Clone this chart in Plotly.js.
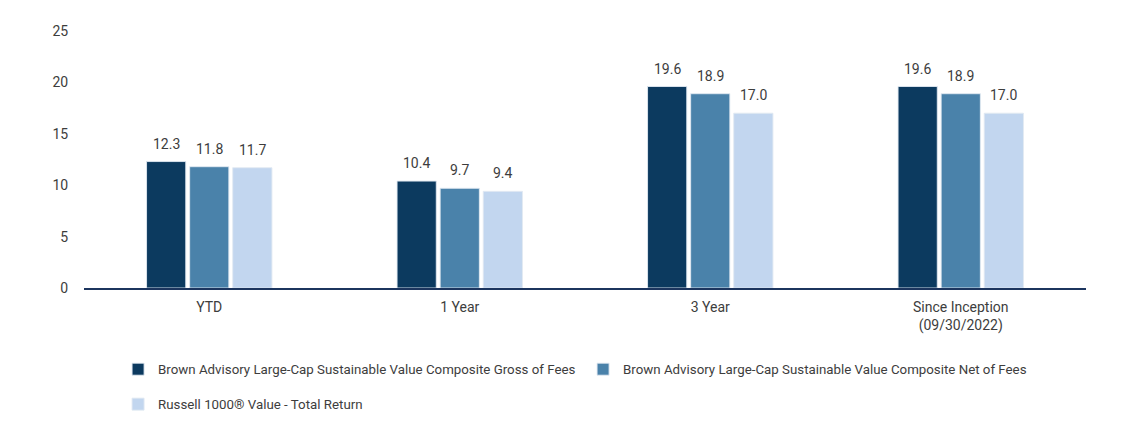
<!DOCTYPE html>
<html>
<head>
<meta charset="utf-8">
<script src="https://cdn.plot.ly/plotly-3.0.1.min.js"></script>
<style>html,body{margin:0;padding:0;background:#fff;}#chart{width:1133px;height:437px;}</style>
</head>
<body>
<div id="chart"></div>
<script>
const categories = ["YTD", "1 Year", "3 Year", "Since Inception<br>(09/30/2022)"];
const seriesNames = [
  "Brown Advisory Large-Cap Sustainable Value Composite Gross of Fees",
  "Brown Advisory Large-Cap Sustainable Value Composite Net of Fees",
  "Russell 1000® Value - Total Return"
];
const grossValues = [12.3, 10.4, 19.6, 19.6];
const netValues = [11.8, 9.7, 18.9, 18.9];
const benchmarkValues = [11.7, 9.4, 17.0, 17.0];
const yTicks = [0, 5, 10, 15, 20, 25];

const colors = ["#0c3a5f", "#4a82aa", "#c2d6ef"];
const FONT = "Roboto, 'Liberation Sans', sans-serif";
const TEXT = "#3d3d3d";
const FS = 14;
const LFS = 13.3;

const allValues = [grossValues, netValues, benchmarkValues];
const legends = ["legend", "legend", "legend2"];

const traces = allValues.map((vals, i) => ({
  type: "bar",
  name: seriesNames[i],
  x: categories,
  y: vals,
  marker: {color: colors[i], line: {color: "rgba(225,233,242,0.9)", width: 1}},
  legend: legends[i],
  hoverinfo: "y+name"
}));

const groupSlotPx = 43;
const annotations = [];
allValues.forEach((vals, i) => {
  vals.forEach((v, j) => {
    annotations.push({
      x: categories[j], y: v, xref: "x", yref: "y",
      text: v.toFixed(1), showarrow: false,
      xshift: (i - 1) * groupSlotPx, yshift: 18,
      font: {family: FONT, size: FS, color: TEXT}
    });
  });
});

const layout = {
  width: 1133, height: 437,
  margin: {l: 84, r: 47, t: 31, b: 149},
  paper_bgcolor: "#fff", plot_bgcolor: "#fff",
  font: {family: FONT, size: FS, color: TEXT},
  barmode: "group",
  bargap: 0.484,
  bargroupgap: 0.09,
  showlegend: true,
  xaxis: {
    type: "category",
    showline: true, linecolor: "#1c355e", linewidth: 2,
    showgrid: false, zeroline: false,
    ticks: "outside", ticklen: 5, tickcolor: "rgba(0,0,0,0)",
    tickfont: {family: FONT, size: FS, color: TEXT},
    fixedrange: true
  },
  yaxis: {
    range: [0, 25],
    tickvals: yTicks,
    ticktext: yTicks.map(String),
    showgrid: false, zeroline: false, showline: false,
    ticks: "outside", ticklen: 12, tickcolor: "rgba(0,0,0,0)",
    tickfont: {family: FONT, size: FS, color: TEXT},
    fixedrange: true
  },
  legend: {
    orientation: "h", x: 0.034, xanchor: "left", y: -0.257, yanchor: "top",
    font: {family: FONT, size: LFS, color: TEXT},
    entrywidth: 420, entrywidthmode: "pixels",
    bgcolor: "rgba(0,0,0,0)"
  },
  legend2: {
    orientation: "h", x: 0.034, xanchor: "left", y: -0.393, yanchor: "top",
    font: {family: FONT, size: LFS, color: TEXT},
    bgcolor: "rgba(0,0,0,0)"
  },
  annotations: annotations
};

Plotly.newPlot("chart", traces, layout, {displayModeBar: false, staticPlot: true});
</script>
</body>
</html>
